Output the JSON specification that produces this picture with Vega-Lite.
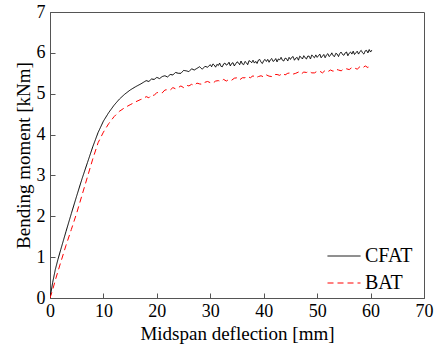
{
  "$schema": "https://vega.github.io/schema/vega-lite/v6.json",
  "width": 374,
  "height": 286,
  "autosize": {"type": "none"},
  "padding": {"left": 50, "top": 12, "right": 12, "bottom": 51},
  "config": {
    "font": "Liberation Serif",
    "view": {"stroke": "#555", "strokeWidth": 1},
    "axis": {
      "grid": false,
      "domainColor": "#555",
      "tickColor": "#555",
      "tickSize": -5,
      "labelFont": "Liberation Serif",
      "titleFont": "Liberation Serif",
      "labelColor": "#000",
      "titleColor": "#000",
      "labelFontSize": 18,
      "titleFontSize": 19,
      "titleFontWeight": "normal",
      "labelOverlap": false,
      "labelFlush": false
    },
    "legend": {"labelFont": "Liberation Serif"}
  },
  "data": {"values": [
    {"s":"CFAT","x":0,"y":0},{"s":"CFAT","x":0.5,"y":0.38},{"s":"CFAT","x":1,"y":0.7},{"s":"CFAT","x":1.5,"y":0.95},{"s":"CFAT","x":2,"y":1.18},{"s":"CFAT","x":3,"y":1.63},{"s":"CFAT","x":4,"y":2.07},{"s":"CFAT","x":5,"y":2.5},{"s":"CFAT","x":6,"y":2.92},{"s":"CFAT","x":7,"y":3.31},{"s":"CFAT","x":8,"y":3.7},{"s":"CFAT","x":9,"y":4.05},{"s":"CFAT","x":10,"y":4.33},{"s":"CFAT","x":11,"y":4.54},{"s":"CFAT","x":12,"y":4.72},{"s":"CFAT","x":13,"y":4.87},{"s":"CFAT","x":14,"y":4.99},{"s":"CFAT","x":15,"y":5.09},{"s":"CFAT","x":16,"y":5.17},{"s":"CFAT","x":17,"y":5.24},{"s":"CFAT","x":17.5,"y":5.28},
    {"s":"CFAT","x":18,"y":5.32},{"s":"CFAT","x":18.5,"y":5.30},{"s":"CFAT","x":19,"y":5.36},{"s":"CFAT","x":19.5,"y":5.35},{"s":"CFAT","x":20,"y":5.40},{"s":"CFAT","x":20.5,"y":5.37},{"s":"CFAT","x":21,"y":5.42},{"s":"CFAT","x":21.5,"y":5.44},{"s":"CFAT","x":22,"y":5.41},{"s":"CFAT","x":22.5,"y":5.47},{"s":"CFAT","x":23,"y":5.46},{"s":"CFAT","x":23.5,"y":5.52},{"s":"CFAT","x":24,"y":5.50},{"s":"CFAT","x":24.5,"y":5.50},{"s":"CFAT","x":25,"y":5.57},{"s":"CFAT","x":25.5,"y":5.56},{"s":"CFAT","x":26,"y":5.54},{"s":"CFAT","x":26.5,"y":5.61},{"s":"CFAT","x":27,"y":5.58},{"s":"CFAT","x":27.5,"y":5.62},{"s":"CFAT","x":28,"y":5.66},{"s":"CFAT","x":28.5,"y":5.60},{"s":"CFAT","x":29,"y":5.67},{"s":"CFAT","x":29.5,"y":5.65},
    {"s":"CFAT","x":30,"y":5.71},{"s":"CFAT","x":30.25,"y":5.66},{"s":"CFAT","x":30.5,"y":5.73},{"s":"CFAT","x":30.75,"y":5.70},{"s":"CFAT","x":31,"y":5.65},{"s":"CFAT","x":31.25,"y":5.72},{"s":"CFAT","x":31.5,"y":5.69},{"s":"CFAT","x":31.75,"y":5.75},{"s":"CFAT","x":32,"y":5.67},{"s":"CFAT","x":32.25,"y":5.66},{"s":"CFAT","x":32.5,"y":5.73},{"s":"CFAT","x":32.75,"y":5.75},{"s":"CFAT","x":33,"y":5.70},{"s":"CFAT","x":33.25,"y":5.72},{"s":"CFAT","x":33.5,"y":5.77},{"s":"CFAT","x":33.75,"y":5.68},{"s":"CFAT","x":34,"y":5.74},{"s":"CFAT","x":34.25,"y":5.76},{"s":"CFAT","x":34.5,"y":5.68},{"s":"CFAT","x":34.75,"y":5.73},{"s":"CFAT","x":35,"y":5.78},{"s":"CFAT","x":35.25,"y":5.76},{"s":"CFAT","x":35.5,"y":5.71},{"s":"CFAT","x":35.75,"y":5.80},{"s":"CFAT","x":36,"y":5.73},{"s":"CFAT","x":36.25,"y":5.71},{"s":"CFAT","x":36.5,"y":5.79},{"s":"CFAT","x":36.75,"y":5.76},{"s":"CFAT","x":37,"y":5.71},{"s":"CFAT","x":37.25,"y":5.81},{"s":"CFAT","x":37.5,"y":5.79},{"s":"CFAT","x":37.75,"y":5.76},{"s":"CFAT","x":38,"y":5.82},{"s":"CFAT","x":38.25,"y":5.75},{"s":"CFAT","x":38.5,"y":5.79},{"s":"CFAT","x":38.75,"y":5.74},{"s":"CFAT","x":39,"y":5.82},{"s":"CFAT","x":39.25,"y":5.84},{"s":"CFAT","x":39.5,"y":5.77},{"s":"CFAT","x":39.75,"y":5.74},{"s":"CFAT","x":40,"y":5.81},{"s":"CFAT","x":40.25,"y":5.84},{"s":"CFAT","x":40.5,"y":5.79},{"s":"CFAT","x":40.75,"y":5.84},{"s":"CFAT","x":41,"y":5.77},{"s":"CFAT","x":41.25,"y":5.83},{"s":"CFAT","x":41.5,"y":5.86},{"s":"CFAT","x":41.75,"y":5.79},{"s":"CFAT","x":42,"y":5.81},{"s":"CFAT","x":42.25,"y":5.86},{"s":"CFAT","x":42.5,"y":5.78},{"s":"CFAT","x":42.75,"y":5.85},{"s":"CFAT","x":43,"y":5.83},{"s":"CFAT","x":43.25,"y":5.89},{"s":"CFAT","x":43.5,"y":5.82},{"s":"CFAT","x":43.75,"y":5.80},{"s":"CFAT","x":44,"y":5.87},{"s":"CFAT","x":44.25,"y":5.86},{"s":"CFAT","x":44.5,"y":5.80},{"s":"CFAT","x":44.75,"y":5.89},{"s":"CFAT","x":45,"y":5.84},{"s":"CFAT","x":45.25,"y":5.89},{"s":"CFAT","x":45.5,"y":5.91},{"s":"CFAT","x":45.75,"y":5.82},{"s":"CFAT","x":46,"y":5.87},{"s":"CFAT","x":46.25,"y":5.89},{"s":"CFAT","x":46.5,"y":5.82},{"s":"CFAT","x":46.75,"y":5.92},{"s":"CFAT","x":47,"y":5.89},{"s":"CFAT","x":47.25,"y":5.85},{"s":"CFAT","x":47.5,"y":5.93},{"s":"CFAT","x":47.75,"y":5.88},{"s":"CFAT","x":48,"y":5.85},{"s":"CFAT","x":48.25,"y":5.92},{"s":"CFAT","x":48.5,"y":5.92},{"s":"CFAT","x":48.75,"y":5.85},{"s":"CFAT","x":49,"y":5.95},{"s":"CFAT","x":49.25,"y":5.91},{"s":"CFAT","x":49.5,"y":5.88},{"s":"CFAT","x":49.75,"y":5.95},{"s":"CFAT","x":50,"y":5.89},{"s":"CFAT","x":50.25,"y":5.93},{"s":"CFAT","x":50.5,"y":5.97},{"s":"CFAT","x":50.75,"y":5.88},{"s":"CFAT","x":51,"y":5.92},{"s":"CFAT","x":51.25,"y":5.96},{"s":"CFAT","x":51.5,"y":5.88},{"s":"CFAT","x":51.75,"y":5.95},{"s":"CFAT","x":52,"y":5.98},{"s":"CFAT","x":52.25,"y":5.91},{"s":"CFAT","x":52.5,"y":5.94},{"s":"CFAT","x":52.75,"y":6.00},{"s":"CFAT","x":53,"y":5.93},{"s":"CFAT","x":53.25,"y":5.91},{"s":"CFAT","x":53.5,"y":5.99},{"s":"CFAT","x":53.75,"y":5.97},{"s":"CFAT","x":54,"y":5.91},{"s":"CFAT","x":54.25,"y":5.99},{"s":"CFAT","x":54.5,"y":6.02},{"s":"CFAT","x":54.75,"y":5.96},{"s":"CFAT","x":55,"y":5.94},{"s":"CFAT","x":55.25,"y":6.00},{"s":"CFAT","x":55.5,"y":6.02},{"s":"CFAT","x":55.75,"y":5.93},{"s":"CFAT","x":56,"y":5.99},{"s":"CFAT","x":56.25,"y":6.02},{"s":"CFAT","x":56.5,"y":5.97},{"s":"CFAT","x":56.75,"y":6.04},{"s":"CFAT","x":57,"y":5.96},{"s":"CFAT","x":57.25,"y":6.00},{"s":"CFAT","x":57.5,"y":6.04},{"s":"CFAT","x":57.75,"y":5.97},{"s":"CFAT","x":58,"y":6.03},{"s":"CFAT","x":58.25,"y":6.06},{"s":"CFAT","x":58.5,"y":6.00},{"s":"CFAT","x":58.75,"y":5.97},{"s":"CFAT","x":59,"y":6.05},{"s":"CFAT","x":59.25,"y":6.06},{"s":"CFAT","x":59.5,"y":6.00},{"s":"CFAT","x":59.75,"y":6.08},{"s":"CFAT","x":60,"y":6.02},{"s":"CFAT","x":60.25,"y":6.07},
    {"s":"BAT","x":0,"y":0},{"s":"BAT","x":0.5,"y":0.2},{"s":"BAT","x":1,"y":0.44},{"s":"BAT","x":2,"y":0.87},{"s":"BAT","x":3,"y":1.29},{"s":"BAT","x":4,"y":1.68},{"s":"BAT","x":5,"y":2.08},{"s":"BAT","x":6,"y":2.52},{"s":"BAT","x":7,"y":2.96},{"s":"BAT","x":8,"y":3.4},{"s":"BAT","x":9,"y":3.8},{"s":"BAT","x":10,"y":4.06},{"s":"BAT","x":11,"y":4.27},{"s":"BAT","x":12,"y":4.44},{"s":"BAT","x":13,"y":4.57},{"s":"BAT","x":14,"y":4.66},{"s":"BAT","x":15,"y":4.73},{"s":"BAT","x":16,"y":4.8},{"s":"BAT","x":17,"y":4.86},{"s":"BAT","x":17.5,"y":4.88},
    {"s":"BAT","x":18,"y":4.93},{"s":"BAT","x":18.5,"y":4.90},{"s":"BAT","x":19,"y":4.97},{"s":"BAT","x":19.5,"y":4.96},{"s":"BAT","x":20,"y":5.03},{"s":"BAT","x":20.5,"y":5.02},{"s":"BAT","x":21,"y":5.02},{"s":"BAT","x":21.5,"y":5.09},{"s":"BAT","x":22,"y":5.10},{"s":"BAT","x":22.5,"y":5.09},{"s":"BAT","x":23,"y":5.15},{"s":"BAT","x":23.5,"y":5.12},{"s":"BAT","x":24,"y":5.15},{"s":"BAT","x":24.5,"y":5.19},{"s":"BAT","x":25,"y":5.15},{"s":"BAT","x":25.5,"y":5.21},{"s":"BAT","x":26,"y":5.19},{"s":"BAT","x":26.5,"y":5.23},{"s":"BAT","x":27,"y":5.20},{"s":"BAT","x":27.5,"y":5.26},{"s":"BAT","x":28,"y":5.24},{"s":"BAT","x":28.5,"y":5.23},{"s":"BAT","x":29,"y":5.28},{"s":"BAT","x":29.5,"y":5.30},{"s":"BAT","x":30,"y":5.27},{"s":"BAT","x":30.5,"y":5.26},{"s":"BAT","x":31,"y":5.31},{"s":"BAT","x":31.5,"y":5.32},{"s":"BAT","x":32,"y":5.30},{"s":"BAT","x":32.5,"y":5.35},{"s":"BAT","x":33,"y":5.31},{"s":"BAT","x":33.5,"y":5.35},{"s":"BAT","x":34,"y":5.33},{"s":"BAT","x":34.5,"y":5.38},{"s":"BAT","x":35,"y":5.39},{"s":"BAT","x":35.5,"y":5.34},{"s":"BAT","x":36,"y":5.39},{"s":"BAT","x":36.5,"y":5.39},{"s":"BAT","x":37,"y":5.42},{"s":"BAT","x":37.5,"y":5.39},{"s":"BAT","x":38,"y":5.44},{"s":"BAT","x":38.5,"y":5.39},{"s":"BAT","x":39,"y":5.42},{"s":"BAT","x":39.5,"y":5.44},{"s":"BAT","x":40,"y":5.41},{"s":"BAT","x":40.5,"y":5.46},{"s":"BAT","x":41,"y":5.43},{"s":"BAT","x":41.5,"y":5.42},{"s":"BAT","x":42,"y":5.47},{"s":"BAT","x":42.5,"y":5.47},{"s":"BAT","x":43,"y":5.45},{"s":"BAT","x":43.5,"y":5.50},{"s":"BAT","x":44,"y":5.46},{"s":"BAT","x":44.5,"y":5.50},{"s":"BAT","x":45,"y":5.51},{"s":"BAT","x":45.5,"y":5.48},{"s":"BAT","x":46,"y":5.50},{"s":"BAT","x":46.5,"y":5.53},{"s":"BAT","x":47,"y":5.48},{"s":"BAT","x":47.5,"y":5.53},{"s":"BAT","x":48,"y":5.52},{"s":"BAT","x":48.5,"y":5.55},{"s":"BAT","x":49,"y":5.51},{"s":"BAT","x":49.5,"y":5.51},{"s":"BAT","x":50,"y":5.55},{"s":"BAT","x":50.5,"y":5.55},{"s":"BAT","x":51,"y":5.51},{"s":"BAT","x":51.5,"y":5.57},{"s":"BAT","x":52,"y":5.54},{"s":"BAT","x":52.5,"y":5.58},{"s":"BAT","x":53,"y":5.55},{"s":"BAT","x":53.5,"y":5.60},{"s":"BAT","x":54,"y":5.58},{"s":"BAT","x":54.5,"y":5.56},{"s":"BAT","x":55,"y":5.61},{"s":"BAT","x":55.5,"y":5.61},{"s":"BAT","x":56,"y":5.59},{"s":"BAT","x":56.5,"y":5.64},{"s":"BAT","x":57,"y":5.63},{"s":"BAT","x":57.5,"y":5.60},{"s":"BAT","x":58,"y":5.66},{"s":"BAT","x":58.5,"y":5.63},{"s":"BAT","x":59,"y":5.68},{"s":"BAT","x":59.5,"y":5.64},{"s":"BAT","x":59.8,"y":5.67}
  ]},
  "mark": {"type": "line", "strokeWidth": 1, "clip": true},
  "encoding": {
    "x": {
      "field": "x", "type": "quantitative",
      "scale": {"domain": [0, 70], "nice": false, "zero": false},
      "axis": {"title": "Midspan deflection [mm]", "values": [0,10,20,30,40,50,60,70], "labelPadding": 9, "titlePadding": 4}
    },
    "y": {
      "field": "y", "type": "quantitative",
      "scale": {"domain": [0, 7], "nice": false},
      "axis": {"title": "Bending moment [kNm]", "values": [0,1,2,3,4,5,6,7], "labelPadding": 10, "titlePadding": 3}
    },
    "color": {
      "field": "s", "type": "nominal",
      "scale": {"domain": ["CFAT", "BAT"], "range": ["#000000", "#ff0000"]},
      "legend": {
        "title": null,
        "orient": "none",
        "legendX": 277,
        "legendY": 227,
        "symbolType": "stroke",
        "symbolSize": 1089,
        "symbolStrokeWidth": 1,
        "labelFontSize": 20,
        "labelColor": "#000",
        "labelOffset": 4,
        "rowPadding": -9
      }
    },
    "strokeDash": {
      "field": "s", "type": "nominal",
      "scale": {"domain": ["CFAT", "BAT"], "range": [[1, 0], [6, 4]]},
      "legend": null
    },
    "order": {"field": "x", "type": "quantitative"}
  }
}
